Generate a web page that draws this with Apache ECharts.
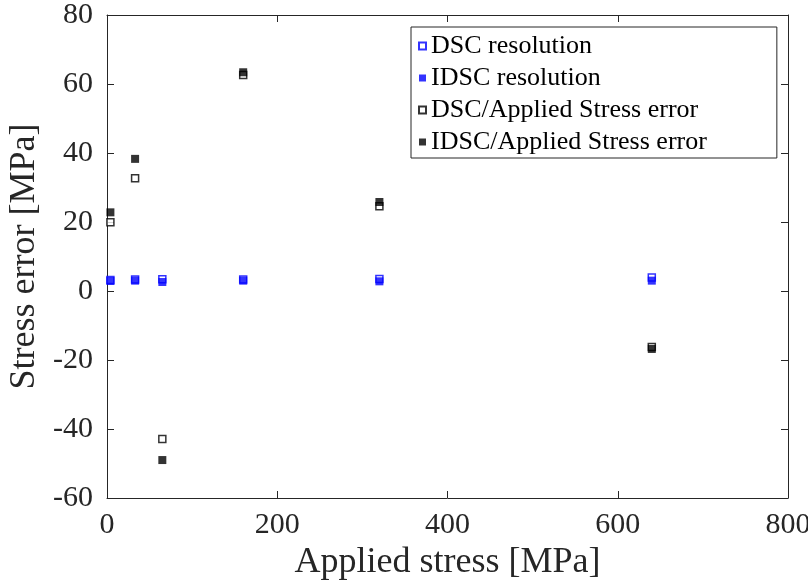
<!DOCTYPE html>
<html>
<head>
<meta charset="utf-8">
<script src="https://cdn.jsdelivr.net/npm/echarts@6/dist/echarts.min.js"></script>
<style>html,body{margin:0;padding:0;background:#fff;}#c{width:808px;height:583px;}</style>
</head>
<body>
<div id="c"></div>
<script>
const appliedStress = [4, 33, 65, 160, 320, 640];
const dscResolution = [3.2, 3.3, 3.4, 3.3, 3.5, 3.9];
const idscResolution = [2.9, 3.0, 2.6, 3.0, 2.8, 3.0];
const dscError = [19.9, 32.7, -42.9, 62.6, 24.6, -16.2];
const idscError = [22.8, 38.3, -49.0, 63.4, 25.8, -16.8];
const xTicks = [0, 200, 400, 600, 800];
const yTicks = [-60, -40, -20, 0, 20, 40, 60, 80];

const pairs = (xs, ys) => xs.map((x, i) => [x, ys[i]]);
const FONT = 'Liberation Serif';
const AX = '#262626';

const chart = echarts.init(document.getElementById('c'));
const axisCommon = () => ({
  axisLine: {show: true, onZero: false, lineStyle: {color: AX, width: 1}},
  axisTick: {show: true, inside: true, length: 7, lineStyle: {color: AX}},
  splitLine: {show: false}
});
chart.setOption({
  animation: false,
  backgroundColor: '#fff',
  grid: {left: 107, right: 20, top: 15, bottom: 85, containLabel: false, outerBoundsMode: 'none'},
  xAxis: [
    Object.assign({type: 'value', min: xTicks[0], max: xTicks[xTicks.length-1], interval: 200,
      name: 'Applied stress [MPa]', nameLocation: 'middle', nameGap: 34,
      nameTextStyle: {fontFamily: FONT, fontSize: 36, color: AX},
      axisLabel: {fontFamily: FONT, fontSize: 30, color: AX, margin: 12}}, axisCommon()),
    Object.assign({type: 'value', position: 'top', min: 0, max: 800, interval: 200,
      axisLabel: {show: false}}, axisCommon())
  ],
  yAxis: [
    Object.assign({type: 'value', min: yTicks[0], max: yTicks[yTicks.length-1], interval: 20,
      name: 'Stress error [MPa]', nameLocation: 'middle', nameGap: 63,
      nameTextStyle: {fontFamily: FONT, fontSize: 36, color: AX},
      axisLabel: {fontFamily: FONT, fontSize: 30, color: AX, margin: 14}}, axisCommon()),
    Object.assign({type: 'value', position: 'right', min: -60, max: 80, interval: 20,
      axisLabel: {show: false}}, axisCommon())
  ],
  legend: {
    orient: 'vertical', left: 411, top: 27,
    backgroundColor: '#fff', borderColor: AX, borderWidth: 1,
    padding: [6, 70, 3, 7], itemGap: 6, itemWidth: 7, itemHeight: 7,
    textStyle: {fontFamily: FONT, fontSize: 26, color: '#000'},
    data: [
      {name: 'DSC resolution', icon: 'rect'},
      {name: 'IDSC resolution', icon: 'rect'},
      {name: 'DSC/Applied Stress error', icon: 'rect'},
      {name: 'IDSC/Applied Stress error', icon: 'rect'}
    ]
  },
  series: [
    {name: 'DSC resolution', type: 'scatter', symbol: 'rect', symbolSize: 7,
      data: pairs(appliedStress, dscResolution),
      itemStyle: {color: '#fff', borderColor: '#0000ff', borderWidth: 1.5}},
    {name: 'IDSC resolution', type: 'scatter', symbol: 'rect', symbolSize: 8,
      data: pairs(appliedStress, idscResolution),
      itemStyle: {color: '#0000ff'}},
    {name: 'DSC/Applied Stress error', type: 'scatter', symbol: 'rect', symbolSize: 7,
      data: pairs(appliedStress, dscError),
      itemStyle: {color: '#fff', borderColor: '#000', borderWidth: 1.5}},
    {name: 'IDSC/Applied Stress error', type: 'scatter', symbol: 'rect', symbolSize: 8,
      data: pairs(appliedStress, idscError),
      itemStyle: {color: '#000'}}
  ]
});
</script>
</body>
</html>
